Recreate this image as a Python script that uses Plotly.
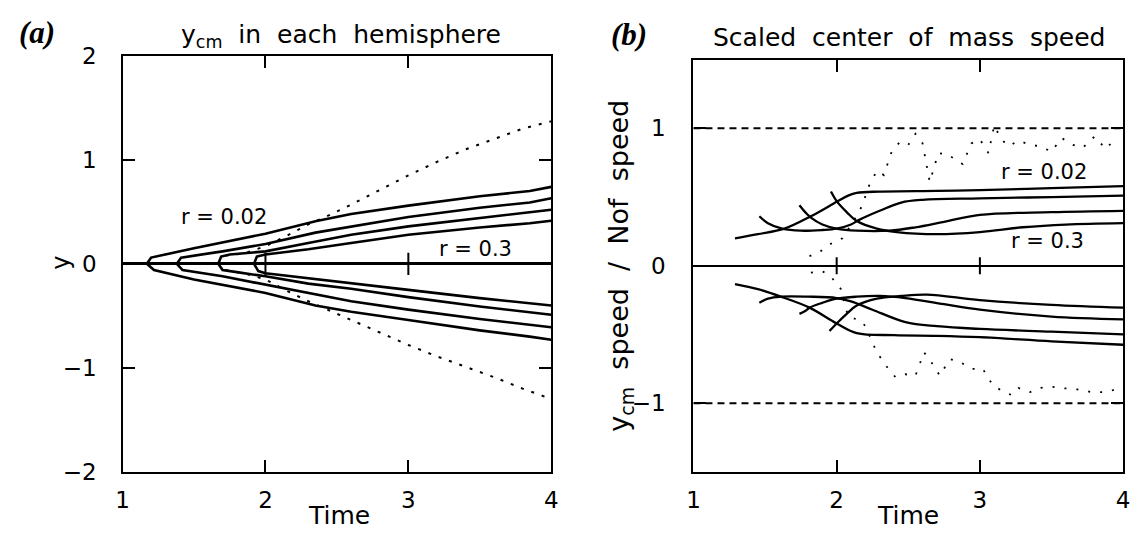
import plotly.graph_objects as go

W, H = 1139, 541

# ---------------- panel (a): y_cm in each hemisphere ----------------
# upper-hemisphere branches, r = 0.02 (outermost) ... r = 0.3 (innermost)
a_up1_t = [1.17, 1.20, 1.50, 2.00, 2.35, 2.60, 3.00, 3.50, 3.85, 4.00]
a_up1_y = [0.00, 0.06, 0.15, 0.29, 0.41, 0.48, 0.56, 0.65, 0.70, 0.74]
a_up2_t = [1.38, 1.41, 1.70, 2.00, 2.35, 2.60, 3.00, 3.50, 3.85, 4.00]
a_up2_y = [0.00, 0.06, 0.12, 0.19, 0.30, 0.36, 0.45, 0.54, 0.59, 0.63]
a_up3_t = [1.67, 1.69, 1.75, 2.00, 2.30, 2.60, 3.00, 3.50, 3.85, 4.00]
a_up3_y = [0.00, 0.07, 0.09, 0.12, 0.20, 0.28, 0.36, 0.44, 0.49, 0.52]
a_up4_t = [1.92, 1.94, 2.00, 2.30, 2.60, 3.00, 3.50, 3.85, 4.00]
a_up4_y = [0.00, 0.07, 0.09, 0.14, 0.20, 0.28, 0.35, 0.39, 0.415]

# lower-hemisphere branches
a_lo1_t = [1.17, 1.22, 1.50, 2.00, 2.35, 2.60, 3.00, 3.50, 3.85, 4.00]
a_lo1_y = [0.00, -0.06, -0.15, -0.28, -0.40, -0.46, -0.54, -0.64, -0.70, -0.73]
a_lo2_t = [1.38, 1.42, 1.70, 2.00, 2.35, 2.60, 3.00, 3.50, 4.00]
a_lo2_y = [0.00, -0.06, -0.12, -0.20, -0.29, -0.36, -0.44, -0.53, -0.61]
a_lo3_t = [1.67, 1.70, 1.80, 2.00, 2.30, 2.60, 3.00, 3.50, 4.00]
a_lo3_y = [0.00, -0.06, -0.08, -0.12, -0.19, -0.24, -0.32, -0.41, -0.49]
a_lo4_t = [1.92, 1.95, 2.00, 2.30, 2.60, 3.00, 3.50, 4.00]
a_lo4_y = [0.00, -0.07, -0.09, -0.14, -0.19, -0.25, -0.33, -0.40]

# dotted envelopes
a_dot_t = [1.72, 1.85, 2.00, 2.15, 2.30, 2.45, 2.60, 2.80, 3.00, 3.20, 3.40, 3.60, 3.80, 4.00]
a_dot_up = [0.08, 0.10, 0.17, 0.27, 0.38, 0.47, 0.57, 0.71, 0.85, 0.98, 1.10, 1.20, 1.30, 1.37]
a_dot_lo = [-0.06, -0.09, -0.15, -0.26, -0.36, -0.45, -0.54, -0.66, -0.78, -0.89, -0.99, -1.09, -1.20, -1.30]

# ---------------- panel (b): scaled center of mass speed ----------------
b_up1_t = [1.29, 1.45, 1.635, 1.82, 2.00, 2.08, 2.14, 2.30, 2.70, 3.00, 3.50, 4.00]
b_up1_y = [0.20, 0.23, 0.27, 0.36, 0.465, 0.51, 0.53, 0.54, 0.545, 0.55, 0.565, 0.58]
b_up2_t = [1.46, 1.52, 1.62, 1.75, 1.90, 2.00, 2.10, 2.15, 2.30, 2.45, 2.60, 3.00, 3.50, 4.00]
b_up2_y = [0.36, 0.31, 0.27, 0.255, 0.26, 0.27, 0.30, 0.33, 0.40, 0.46, 0.48, 0.49, 0.50, 0.51]
b_up3_t = [1.74, 1.78, 1.82, 1.90, 2.00, 2.14, 2.37, 2.55, 2.75, 3.00, 3.50, 4.00]
b_up3_y = [0.44, 0.39, 0.35, 0.30, 0.27, 0.255, 0.255, 0.28, 0.32, 0.37, 0.39, 0.40]
b_up4_t = [1.96, 2.00, 2.07, 2.14, 2.28, 2.42, 2.70, 3.00, 3.30, 3.60, 4.00]
b_up4_y = [0.54, 0.47, 0.39, 0.325, 0.27, 0.245, 0.23, 0.245, 0.28, 0.30, 0.31]

b_lo1_t = [1.29, 1.45, 1.61, 1.81, 2.00, 2.14, 2.40, 2.70, 3.00, 3.50, 4.00]
b_lo1_y = [-0.133, -0.17, -0.225, -0.305, -0.42, -0.49, -0.505, -0.51, -0.52, -0.55, -0.575]
b_lo2_t = [1.46, 1.52, 1.61, 1.80, 2.00, 2.10, 2.25, 2.48, 2.70, 3.00, 3.50, 4.00]
b_lo2_y = [-0.27, -0.24, -0.225, -0.225, -0.235, -0.26, -0.32, -0.41, -0.44, -0.46, -0.48, -0.50]
b_lo3_t = [1.74, 1.78, 1.81, 1.90, 2.00, 2.14, 2.30, 2.48, 2.75, 3.00, 3.50, 4.00]
b_lo3_y = [-0.35, -0.33, -0.305, -0.27, -0.24, -0.225, -0.22, -0.235, -0.28, -0.32, -0.37, -0.39]
b_lo4_t = [1.95, 2.00, 2.07, 2.14, 2.28, 2.45, 2.63, 3.00, 3.50, 4.00]
b_lo4_y = [-0.475, -0.42, -0.35, -0.29, -0.24, -0.22, -0.21, -0.25, -0.285, -0.305]

b_dot_up_t = [1.81, 1.88, 1.96, 2.04, 2.12, 2.18, 2.22, 2.28, 2.33, 2.38, 2.44, 2.50, 2.55,
              2.60, 2.63, 2.65, 2.71, 2.78, 2.84, 2.88, 2.94, 3.00, 3.06, 3.10, 3.15, 3.20,
              3.27, 3.35, 3.42, 3.50, 3.57, 3.65, 3.72, 3.80, 3.88, 3.95]
b_dot_up_y = [0.07, 0.10, 0.16, 0.20, 0.33, 0.44, 0.57, 0.69, 0.66, 0.82, 0.90, 0.88, 0.96,
              0.89, 0.72, 0.61, 0.82, 0.81, 0.76, 0.74, 0.89, 0.92, 0.82, 1.02, 0.92, 0.87,
              0.91, 0.88, 0.87, 0.83, 0.93, 0.88, 0.86, 0.94, 0.85, 0.93]
b_dot_lo_t = [1.82, 1.90, 1.96, 2.03, 2.08, 2.17, 2.20, 2.28, 2.36, 2.41, 2.48, 2.55, 2.61,
              2.66, 2.72, 2.79, 2.86, 2.94, 3.02, 3.09, 3.17, 3.22, 3.27, 3.35, 3.42, 3.50,
              3.57, 3.68, 3.78, 3.88, 3.95]
b_dot_lo_y = [-0.05, -0.04, -0.08, -0.17, -0.37, -0.40, -0.44, -0.63, -0.75, -0.81, -0.79,
              -0.80, -0.63, -0.70, -0.80, -0.68, -0.70, -0.75, -0.75, -0.87, -0.92, -0.94,
              -0.89, -0.92, -0.89, -0.88, -0.89, -0.90, -0.92, -0.92, -0.90]

speed_limits = [1, -1]
zero_ticks = [2, 3]

a_xticks = [1, 2, 3, 4]
a_yticks = [-2, -1, 0, 1, 2]
b_yticks = [-1, 0, 1]

FONT = "DejaVu Sans"
INK = "black"
SP = "&nbsp;"

fig = go.Figure()


def curve(t, y, xa, ya, width=2.6, dash=None, shape="linear"):
    fig.add_trace(go.Scatter(
        x=t, y=y, mode="lines", xaxis=xa, yaxis=ya, showlegend=False,
        line=dict(color=INK, width=width, dash=dash, shape=shape), hoverinfo="skip"))


for t, y in [(a_up1_t, a_up1_y), (a_up2_t, a_up2_y), (a_up3_t, a_up3_y), (a_up4_t, a_up4_y),
             (a_lo1_t, a_lo1_y), (a_lo2_t, a_lo2_y), (a_lo3_t, a_lo3_y), (a_lo4_t, a_lo4_y)]:
    curve(t, y, "x", "y")
curve(a_dot_t, a_dot_up, "x", "y", width=2, dash="3px,8px")
curve(a_dot_t, a_dot_lo, "x", "y", width=2, dash="3px,8px")

for t, y in [(b_up1_t, b_up1_y), (b_up2_t, b_up2_y), (b_up3_t, b_up3_y), (b_up4_t, b_up4_y),
             (b_lo1_t, b_lo1_y), (b_lo2_t, b_lo2_y), (b_lo3_t, b_lo3_y), (b_lo4_t, b_lo4_y)]:
    curve(t, y, "x2", "y2", width=2.3, shape="spline")
curve(b_dot_up_t, b_dot_up_y, "x2", "y2", width=1.8, dash="2px,10px")
curve(b_dot_lo_t, b_dot_lo_y, "x2", "y2", width=1.8, dash="2px,10px")

# small tick marks across the zero line
for xa, ya, sz in [("x", "y", 16), ("x2", "y2", 12)]:
    fig.add_trace(go.Scatter(
        x=zero_ticks, y=[0] * len(zero_ticks), mode="markers", xaxis=xa, yaxis=ya,
        showlegend=False, hoverinfo="skip",
        marker=dict(symbol="line-ns", size=sz, line=dict(color=INK, width=2))))

# dashed reference lines at +/- 1 in panel (b)
for v in speed_limits:
    fig.add_shape(type="line", xref="x2 domain", yref="y2", x0=0, x1=1, y0=v, y1=v,
                  line=dict(color=INK, width=2, dash="7px,5px"))


def dx(a, b):
    return [a / W, b / W]


def dy(top, bottom):
    return [(H - bottom) / H, (H - top) / H]


axis_common = dict(showgrid=False, showline=True, linecolor=INK, linewidth=2.4,
                   mirror="ticks", ticks="inside", ticklen=12, tickwidth=2, tickcolor=INK,
                   tickfont=dict(family=FONT, size=23, color=INK), fixedrange=True)

fig.update_layout(
    width=W, height=H, margin=dict(l=0, r=0, t=0, b=0),
    paper_bgcolor="white", plot_bgcolor="white",
    font=dict(family=FONT, size=23, color=INK),
    xaxis=dict(axis_common, domain=dx(117, 551), range=[1, 4], tickvals=a_xticks,
               zeroline=False, anchor="y", ticklabelstandoff=6),
    yaxis=dict(axis_common, domain=dy(45, 482), range=[-2, 2], tickvals=a_yticks,
               zeroline=True, zerolinecolor=INK, zerolinewidth=2.5, anchor="x",
               ticklabelstandoff=19),
    xaxis2=dict(axis_common, domain=dx(695, 1130), range=[1, 4], tickvals=a_xticks,
                zeroline=False, anchor="y2", ticklabelstandoff=6),
    yaxis2=dict(axis_common, domain=dy(49, 482), range=[-1.5, 1.5], tickvals=b_yticks,
                zeroline=True, zerolinecolor=INK, zerolinewidth=2.3, anchor="x2",
                ticklabelstandoff=21),
)


def label(text, x, y, size=23, family=FONT, angle=0):
    fig.add_annotation(text=text, x=x / W, y=1 - y / H, xref="paper", yref="paper",
                       showarrow=False, textangle=angle, xanchor="center", yanchor="middle",
                       font=dict(family=family, size=size, color=INK))


def spaced(words, gap=2):
    return (SP * gap).join(words)


label("<b><i>(a)</i></b>", 30, 21, size=31, family="Liberation Serif")
label("<b><i>(b)</i></b>", 630, 23, size=31, family="Liberation Serif")
label(spaced(["y<sub>cm</sub>", "in", "each", "hemisphere"]), 338, 24, size=25)
label(spaced(["Scaled", "center", "of", "mass", "speed"]), 913, 26, size=25)
label("Time", 336, 528, size=25)
label("Time", 912, 528, size=25)
label("y", 55, 262, size=24, angle=-90)
label(spaced(["y<sub>cm</sub>", "speed", "/", "Nof", "speed"]), 621, 265, size=27, angle=-90)

# curve family labels placed in data coordinates
r_labels = [("x", "y", 1.71, 0.448, "0.02"), ("x", "y", 3.47, 0.14, "0.3"),
            ("x2", "y2", 3.45, 0.68, "0.02"), ("x2", "y2", 3.47, 0.18, "0.3")]
for xa, ya, t, v, r in r_labels:
    fig.add_annotation(text=spaced(["r", "=", r], 1), x=t, y=v, xref=xa, yref=ya,
                       showarrow=False, font=dict(family=FONT, size=21, color=INK))

fig.write_html("out.html")
